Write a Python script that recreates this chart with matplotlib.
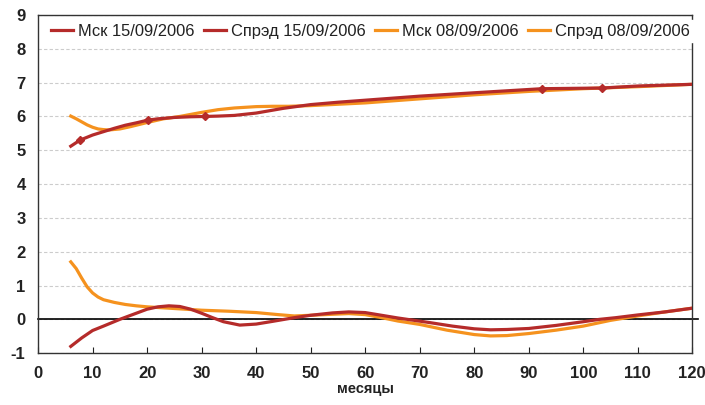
import numpy as np
import matplotlib.pyplot as plt

plt.rcParams['font.family'] = ['Liberation Sans', 'DejaVu Sans']
plt.rcParams['axes.unicode_minus'] = False

# months
x_msk15 = [6, 7.7, 10, 12, 14, 16, 18, 20.1, 22, 25, 28, 30.7, 33, 36, 40, 45, 50, 55, 60, 70, 80, 92.4, 103.4, 110, 120]
y_msk15 = [5.12, 5.3, 5.45, 5.55, 5.65, 5.74, 5.81, 5.89, 5.93, 5.97, 5.99, 6.0, 6.01, 6.03, 6.1, 6.24, 6.35, 6.42, 6.48, 6.6, 6.7, 6.82, 6.84, 6.9, 6.95]

x_msk08 = [6, 7, 8, 9, 10, 11, 12, 13, 15, 17, 20, 23, 26, 30, 33, 36, 40, 43, 46, 50, 60, 70, 80, 90, 100, 110, 120]
y_msk08 = [6.01, 5.93, 5.84, 5.75, 5.68, 5.63, 5.61, 5.6, 5.63, 5.7, 5.82, 5.93, 6.0, 6.12, 6.2, 6.25, 6.29, 6.3, 6.3, 6.32, 6.4, 6.52, 6.64, 6.74, 6.82, 6.88, 6.95]

# markers on the 15/09 curve
x_pts = [7.7, 20.1, 30.7, 92.4, 103.4]
y_pts = [5.3, 5.89, 6.0, 6.82, 6.84]

x_spr15 = [6, 8, 10, 12, 15, 18, 20, 22, 24, 26, 28, 30, 32, 34, 37, 40, 43, 47, 50, 54, 57, 60, 63, 66, 69, 72, 76, 80, 83, 86, 90, 95, 100, 103, 106, 110, 115, 120]
y_spr15 = [-0.8, -0.55, -0.33, -0.2, 0.0, 0.18, 0.3, 0.37, 0.4, 0.38, 0.3, 0.18, 0.05, -0.07, -0.17, -0.14, -0.06, 0.05, 0.12, 0.19, 0.22, 0.2, 0.12, 0.04, -0.03, -0.1, -0.2, -0.28, -0.31, -0.3, -0.27, -0.18, -0.07, 0.0, 0.05, 0.13, 0.22, 0.33]

x_spr08 = [6, 7, 8, 9, 10, 11, 12, 14, 16, 18, 20, 25, 30, 35, 40, 44, 47, 50, 54, 57, 60, 63, 66, 70, 75, 80, 83, 86, 90, 95, 100, 105, 110, 115, 120]
y_spr08 = [1.7, 1.5, 1.22, 0.96, 0.78, 0.66, 0.58, 0.5, 0.44, 0.4, 0.37, 0.32, 0.27, 0.24, 0.2, 0.14, 0.1, 0.12, 0.15, 0.17, 0.14, 0.05, -0.05, -0.15, -0.32, -0.45, -0.49, -0.48, -0.42, -0.32, -0.2, -0.03, 0.1, 0.22, 0.33]

labels = ['Мск 15/09/2006', 'Спрэд 15/09/2006', 'Мск 08/09/2006', 'Спрэд 08/09/2006']
red = '#B52B2A'
orange = '#F5921E'

fig = plt.figure(figsize=(7.05, 4.05), dpi=100)
ax = fig.add_axes([0.054, 0.128, 0.928, 0.835])

lw = 2.3
ax.plot(x_msk15, y_msk15, color=red, lw=lw, label=labels[0], zorder=4)
ax.plot(x_spr15, y_spr15, color=red, lw=lw, label=labels[1], zorder=4)
ax.plot(x_msk08, y_msk08, color=orange, lw=lw, label=labels[2], zorder=3)
ax.plot(x_spr08, y_spr08, color=orange, lw=lw, label=labels[3], zorder=3)
ax.plot(x_pts, y_pts, ls='none', marker='D', ms=4.5, color=red, zorder=5)

ax.axhline(0, xmin=0, xmax=1.008, color='black', lw=1.2, clip_on=False, zorder=2)

ax.set_xlim(0, 120)
ax.set_ylim(-1, 9)
ax.set_xticks(range(0, 121, 10))
ax.set_yticks(range(-1, 10))
ax.yaxis.grid(True, ls=(0, (3, 2)), color='#cccccc', lw=0.8)
ax.set_axisbelow(True)

for s in ax.spines.values():
    s.set_color('#333333')
    s.set_linewidth(1.0)

ax.tick_params(axis='x', direction='in', length=4, labelsize=12, pad=9, colors='#222222')
ax.tick_params(axis='y', length=0, labelsize=12, pad=9, colors='#222222')
for t in ax.get_xticklabels() + ax.get_yticklabels():
    t.set_fontweight('bold')

ax.set_xlabel('месяцы', fontsize=10.5, fontweight='bold', labelpad=1, color='#222222')

leg = ax.legend(loc='center', bbox_to_anchor=(0.508, 0.952), ncol=4, fontsize=11.9,
                handlelength=1.3, handletextpad=0.3, columnspacing=0.6,
                frameon=True, fancybox=False, borderpad=0.2, borderaxespad=0)
leg.get_frame().set_facecolor('white')
leg.get_frame().set_edgecolor('white')
leg.get_frame().set_alpha(1)
for t in leg.get_texts():
    t.set_color('#222222')

fig.savefig('out.png', dpi=100)
